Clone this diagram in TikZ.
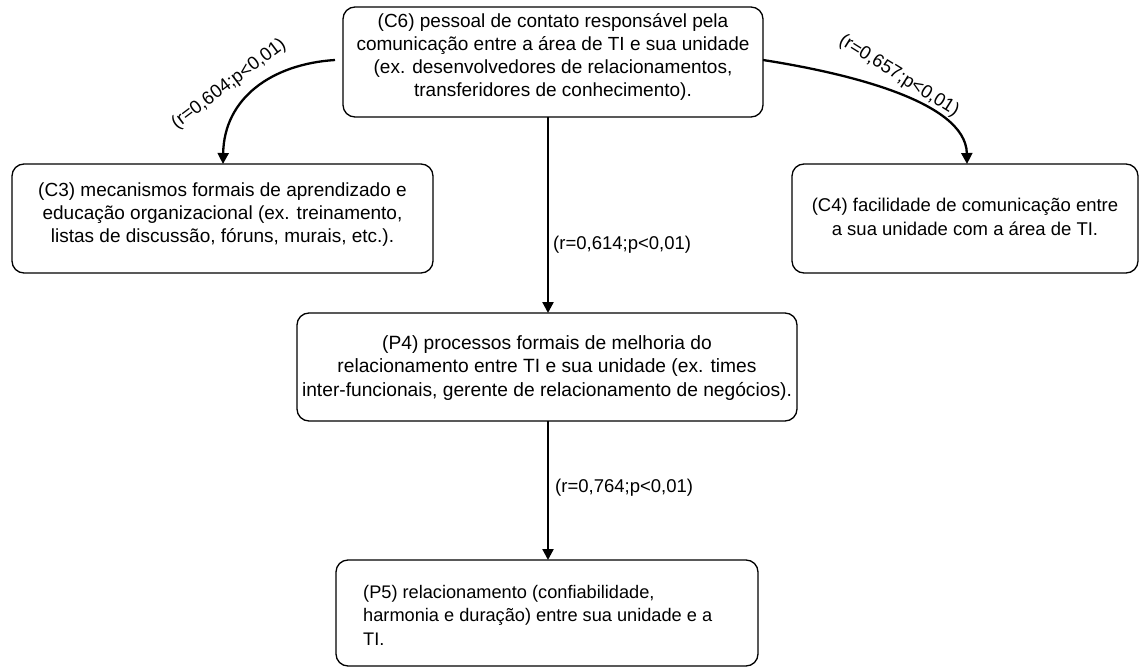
\documentclass[tikz,border=0pt]{standalone}
\usepackage{fontspec}
\setmainfont{Liberation Sans}
\usetikzlibrary{arrows.meta}
\begin{document}
\begin{tikzpicture}[x=1pt,y=-1pt,
  box/.style={draw, line width=1.3pt, rounded corners=12pt, inner sep=0pt},
  txt/.style={align=center, inner sep=0pt},
  lab/.style={font=\fontsize{18.5}{23}\selectfont, inner sep=0pt},
  conn/.style={line width=2.3pt, -{Triangle[length=11pt,width=11pt]}}]
\useasboundingbox (0,0) rectangle (1140,668);
% boxes
\node[box, minimum width=420pt, minimum height=110pt] (c6) at (553,62) {};
\node[box, minimum width=421pt, minimum height=109pt] (c3) at (222.5,218.5) {};
\node[box, minimum width=346pt, minimum height=109pt] (c4) at (965,218.5) {};
\node[box, minimum width=500pt, minimum height=108pt] (p4) at (547,367) {};
\node[box, minimum width=422pt, minimum height=106pt] (p5) at (547,613) {};
% texts
\node[txt, font=\fontsize{19}{22.7}\selectfont] (t6) at (553,57) {(C6) pessoal de contato responsável pela\\comunicação entre a área de TI e sua unidade\\(ex. desenvolvedores de relacionamentos,\\transferidores de conhecimento).};
\node[txt, font=\fontsize{19}{23.3}\selectfont] (t3) at (222.5,214.5) {(C3) mecanismos formais de aprendizado e\\educação organizacional (ex. treinamento,\\listas de discussão, fóruns, murais, etc.).};
\node[txt, font=\fontsize{18.5}{23.5}\selectfont] (t4) at (965,217) {(C4) facilidade de comunicação entre\\a sua unidade com a área de TI.};
\node[txt, font=\fontsize{19.2}{23.5}\selectfont] (t4p) at (547,368) {(P4) processos formais de melhoria do\\relacionamento entre TI e sua unidade (ex. times\\inter-funcionais, gerente de relacionamento de negócios).};
\node[txt, align=left, anchor=west, font=\fontsize{18.2}{23.5}\selectfont] (t5) at (363,615) {(P5) relacionamento (confiabilidade,\\harmonia e duração) entre sua unidade e a\\TI.};
% connectors
\coordinate (c6l) at (335,60);
\coordinate (c6r) at (763,60);
\coordinate (c3t) at (223,164);
\coordinate (c4t) at (967,164);
\draw[conn] (c6l) .. controls (272,64) and (224,98) .. (c3t);
\draw[conn] (c6r) .. controls (840,72) and (966,100) .. (c4t);
\draw[conn] (548,117) -- (548,313);
\draw[conn] (548,421) -- (548,560);
% labels
\node[lab, rotate=37] (l1) at (229,84) {(r=0,604;p<0,01)};
\node[lab, rotate=-32] (l2) at (899,76) {(r=0,657;p<0,01)};
\node[lab, anchor=west] (l3) at (553,245) {(r=0,614;p<0,01)};
\node[lab, anchor=west] (l4) at (555,488) {(r=0,764;p<0,01)};
\end{tikzpicture}
\end{document}
